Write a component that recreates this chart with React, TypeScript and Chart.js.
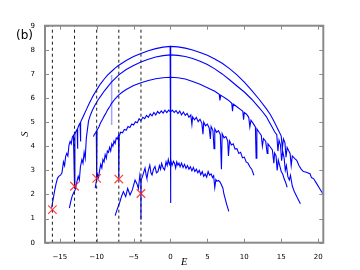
import React, { useEffect, useRef } from 'react';
import { Chart, registerables } from 'chart.js';

Chart.register(...registerables);

// Tick values
const xTickValues = [-15, -10, -5, 0, 5, 10, 15, 20];
const yTickValues = [0, 1, 2, 3, 4, 5, 6, 7, 8, 9];

// Ground-state energies (dashed lines) and marked entropies (red crosses)
const groundE = [-16, -13, -10, -7, -4];
const groundS = [1.37, 2.34, 2.67, 2.64, 2.04];

// Entropy curves S(E): [E, S]
const curveA: [number, number][] = [
  [-16.1, 1.45], [-15.9, 1.8], [-15.7, 2.15], [-15.5, 2.45], [-15.3, 2.68], [-15.1, 2.76], [-14.9, 2.8],
  [-14.7, 2.9], [-14.5, 3.35], [-14.35, 3.2], [-14.2, 3.58], [-14.05, 3.7], [-13.9, 3.6], [-13.75, 4.05],
  [-13.6, 4.2], [-13.45, 4.1], [-13.3, 4.38], [-13.15, 4.45], [-13.0, 2.35], [-12.95, 4.5], [-12.8, 4.62],
  [-12.65, 4.7], [-12.6, 3.9], [-12.55, 4.74], [-12.4, 4.88], [-12.25, 4.96], [-12.2, 4.2], [-12.15, 5.0],
  [-12.0, 5.12], [-11.7, 5.32], [-11.4, 5.52], [-11.0, 5.78], [-10.5, 6.08], [-10.0, 6.34], [-9.5, 6.58],
  [-9.0, 6.78], [-8.5, 6.96], [-8.0, 7.1], [-7.5, 7.24], [-7.0, 7.36], [-6.0, 7.56], [-5.0, 7.72],
  [-4.0, 7.85], [-3.0, 7.96], [-2.0, 8.05], [-1.0, 8.11], [-0.05, 8.14], [0, 1.65], [0.05, 8.14],
  [1.0, 8.12], [2.0, 8.07], [3.0, 7.99], [4.0, 7.89], [5.0, 7.77], [6.0, 7.62], [7.0, 7.44], [8.0, 7.22],
  [9.0, 6.96], [10.0, 6.66], [11.0, 6.32], [12.0, 5.95], [13.0, 5.55], [13.5, 5.33], [14.0, 5.05],
  [14.4, 4.8], [14.8, 4.55], [15.0, 4.42], [15.15, 3.9], [15.3, 4.3], [15.5, 4.15], [15.65, 3.55],
  [15.8, 3.95], [16.0, 3.82], [16.2, 3.7], [16.35, 3.2], [16.5, 3.6], [16.8, 3.5], [17.1, 3.42],
  [17.4, 3.2], [17.7, 3.05], [18.0, 2.95], [18.4, 2.92], [18.9, 2.86], [19.1, 2.7], [19.4, 2.65],
  [19.8, 2.45], [20.2, 2.25], [20.7, 2.0],
];

const curveB: [number, number][] = [
  [-13.7, 1.43], [-13.5, 1.72], [-13.3, 1.95], [-13.1, 2.08], [-12.9, 2.2], [-12.7, 2.5], [-12.5, 2.75],
  [-12.35, 2.6], [-12.2, 3.15], [-12.0, 3.45], [-11.85, 3.3], [-11.7, 3.75], [-11.55, 3.5], [-11.4, 4.35],
  [-11.25, 4.7], [-11.1, 5.05], [-10.9, 5.25], [-10.6, 5.48], [-10.2, 5.72], [-9.8, 5.93], [-9.4, 6.1],
  [-9.0, 6.28], [-8.0, 6.66], [-7.0, 6.96], [-6.0, 7.18], [-5.0, 7.35], [-4.0, 7.49], [-3.0, 7.61],
  [-2.0, 7.7], [-1.0, 7.76], [0, 7.79], [1.0, 7.77], [2.0, 7.72], [3.0, 7.64], [4.0, 7.53], [5.0, 7.39],
  [6.0, 7.21], [7.0, 7.0], [8.0, 6.76], [9.0, 6.5], [10.0, 6.25], [11.0, 5.95], [12.0, 5.6], [12.5, 5.42],
  [13.0, 5.22], [13.4, 5.0], [13.8, 4.78], [14.1, 4.6], [14.4, 4.48], [14.55, 3.8], [14.7, 4.25],
  [14.9, 4.05], [15.05, 3.4], [15.2, 3.8], [15.4, 3.5], [15.55, 3.0], [15.7, 3.2], [15.9, 2.74],
  [16.1, 2.6], [16.25, 2.8], [16.5, 2.35], [16.8, 2.1], [17.2, 1.85], [17.6, 1.62],
];

const curveC: [number, number][] = [
  [-10.45, 4.4], [-10.3, 4.5], [-10.15, 4.56], [-10.05, 4.62], [-10.0, 2.65], [-9.95, 4.66], [-9.7, 4.8],
  [-9.5, 4.95], [-9.2, 5.12], [-9.0, 5.24], [-8.7, 5.4], [-8.5, 5.52], [-8.2, 5.66], [-8.0, 5.77],
  [-7.5, 5.97], [-7.0, 6.13], [-6.5, 6.25], [-6.0, 6.35], [-5.0, 6.52], [-4.0, 6.63], [-3.0, 6.73],
  [-2.0, 6.8], [-1.0, 6.84], [0, 6.86], [1.0, 6.84], [2.0, 6.79], [3.0, 6.69], [4.0, 6.57], [5.0, 6.43],
  [6.0, 6.28], [6.6, 6.15], [6.7, 5.9], [6.8, 6.12], [7.0, 6.08], [7.5, 5.98], [8.0, 5.87], [8.3, 5.78],
  [8.4, 5.45], [8.5, 5.75], [9.0, 5.64], [9.5, 5.52], [9.8, 5.45], [9.9, 5.1], [10.0, 5.4], [10.3, 5.33],
  [10.6, 5.2], [10.75, 4.8], [10.9, 5.08], [11.2, 4.95], [11.5, 4.8], [11.6, 3.5], [11.7, 4.72],
  [12.0, 4.58], [12.3, 4.45], [12.45, 4.0], [12.6, 4.32], [12.9, 4.2], [13.1, 3.7], [13.2, 4.1],
  [13.5, 3.98], [13.8, 3.85], [14.0, 3.3], [14.1, 3.72], [14.3, 3.6], [14.45, 3.0], [14.6, 3.43],
  [14.8, 3.2], [15.0, 2.95], [15.2, 2.85], [15.4, 2.65], [15.6, 2.5], [15.8, 2.3],
];

const curveD: [number, number][] = [
  [-10.2, 2.26], [-10.05, 2.55], [-9.9, 2.85], [-9.75, 2.7], [-9.6, 3.0], [-9.45, 3.25], [-9.3, 3.1],
  [-9.15, 3.45], [-9.0, 3.35], [-8.85, 3.65], [-8.7, 3.5], [-8.55, 3.8], [-8.4, 3.75], [-8.25, 3.95],
  [-8.1, 3.8], [-7.95, 4.1], [-7.8, 4.0], [-7.65, 4.22], [-7.5, 4.12], [-7.35, 4.35], [-7.2, 4.3],
  [-7.05, 4.44], [-7.0, 2.65], [-6.95, 4.42], [-6.75, 4.58], [-6.5, 4.56], [-6.25, 4.7], [-6.0, 4.66],
  [-5.75, 4.82], [-5.5, 4.78], [-5.25, 4.92], [-5.0, 4.88], [-4.75, 5.02], [-4.5, 4.98], [-4.25, 5.14],
  [-4.0, 5.06], [-3.75, 5.2], [-3.5, 5.14], [-3.25, 5.28], [-3.0, 5.2], [-2.75, 5.34], [-2.5, 5.26],
  [-2.25, 5.4], [-2.0, 5.3], [-1.75, 5.44], [-1.5, 5.36], [-1.25, 5.47], [-1.0, 5.38], [-0.75, 5.5],
  [-0.5, 5.4], [-0.25, 5.5], [0, 5.42], [0.25, 5.5], [0.5, 5.4], [0.75, 5.48], [1.0, 5.36], [1.25, 5.46],
  [1.5, 5.3], [1.75, 5.42], [2.0, 5.28], [2.25, 5.36], [2.5, 5.2], [2.75, 5.3], [2.9, 4.9], [3.0, 5.22],
  [3.25, 5.1], [3.5, 5.2], [3.75, 5.02], [4.0, 5.12], [4.25, 4.95], [4.4, 4.5], [4.5, 5.0], [4.75, 4.85],
  [5.0, 4.92], [5.25, 4.75], [5.4, 4.3], [5.5, 4.82], [5.75, 4.65], [5.9, 3.9], [6.0, 4.72], [6.25, 4.58],
  [6.5, 4.65], [6.75, 4.48], [6.9, 3.05], [7.0, 4.52], [7.25, 4.35], [7.5, 4.4], [7.75, 4.22], [7.85, 3.6],
  [8.0, 4.22], [8.25, 4.05], [8.5, 4.1], [8.75, 3.88], [9.0, 3.9], [9.25, 3.7], [9.5, 3.75], [9.75, 3.52],
  [10.0, 3.55], [10.25, 3.35], [10.5, 3.3], [10.75, 3.15], [11.0, 3.05], [11.3, 2.8],
];

const curveE: [number, number][] = [
  [-7.5, 1.12], [-7.2, 1.4], [-6.85, 1.7], [-6.6, 1.95], [-6.38, 2.12], [-6.07, 1.91], [-5.8, 2.25],
  [-5.48, 1.98], [-5.17, 2.19], [-4.8, 2.6], [-4.55, 2.45], [-4.35, 2.25], [-4.15, 2.8], [-4.02, 2.5],
  [-4.0, 0.95], [-3.98, 2.6], [-3.8, 2.74], [-3.6, 2.95], [-3.45, 3.09], [-3.3, 2.8], [-3.2, 2.67],
  [-3.0, 3.0], [-2.8, 3.22], [-2.65, 2.9], [-2.5, 2.81], [-2.3, 3.05], [-2.1, 3.16], [-1.9, 2.9],
  [-1.7, 2.95], [-1.5, 3.2], [-1.35, 3.05], [-1.2, 3.29], [-1.0, 3.1], [-0.8, 3.02], [-0.6, 3.35],
  [-0.45, 3.2], [-0.3, 3.45], [-0.15, 3.25], [0.05, 3.4], [0.2, 3.2], [0.4, 3.38], [0.55, 3.3],
  [0.7, 3.1], [0.85, 3.35], [1.0, 3.22], [1.15, 3.3], [1.3, 3.15], [1.5, 3.3], [1.7, 3.12], [1.9, 3.25],
  [2.1, 3.08], [2.3, 3.2], [2.5, 3.05], [2.7, 3.15], [2.9, 2.98], [3.1, 3.12], [3.3, 2.95], [3.5, 3.05],
  [3.7, 2.9], [3.9, 3.0], [4.1, 2.82], [4.3, 2.95], [4.5, 2.75], [4.7, 2.85], [4.9, 2.72], [5.1, 2.95],
  [5.3, 2.8], [5.5, 2.85], [5.7, 2.7], [5.85, 2.78], [6.0, 2.28], [6.15, 2.62], [6.3, 2.55], [6.5, 2.58],
  [6.7, 2.52], [6.9, 2.4], [7.1, 2.26], [7.25, 2.0], [7.4, 1.84], [7.6, 1.6], [7.9, 1.3],
];

// Faint spike near E = -8
const faintSpike: [number, number][] = [[-7.97, 6.96], [-7.97, 4.88]];

const curves = [curveA, curveB, curveC, curveD, curveE];

const fmt = (v: number) => (v < 0 ? '\u2212' + Math.abs(v) : String(v));

export default function App() {
  const ref = useRef<HTMLCanvasElement>(null);

  useEffect(() => {
    if (!ref.current) return;
    const toPts = (a: [number, number][]) => a.map(([x, y]) => ({ x, y }));

    const markerDs: any = {
      data: groundE.map((e, i) => ({ x: e, y: groundS[i] })),
      showLine: false,
      pointStyle: 'crossRot',
      pointRadius: 6,
      pointBorderColor: 'rgba(255,30,30,0.85)',
      pointBackgroundColor: 'rgba(255,30,30,0.85)',
      pointBorderWidth: 1.2,
      order: 0,
    };
    const dashDs: any[] = groundE.map((e) => ({
      data: [{ x: e, y: 0 }, { x: e, y: 9 }],
      showLine: true,
      borderColor: '#1a1a1a',
      borderWidth: 1,
      borderDash: [3, 3],
      pointRadius: 0,
      order: 1,
    }));
    const curveDs: any[] = curves.map((c) => ({
      data: toPts(c),
      showLine: true,
      borderColor: '#0000ff',
      borderWidth: 1.1,
      pointRadius: 0,
      tension: 0,
      order: 2,
    }));
    const faintDs: any = {
      data: toPts(faintSpike),
      showLine: true,
      borderColor: 'rgba(90,90,255,0.55)',
      borderWidth: 1.5,
      pointRadius: 0,
      order: 3,
    };

    const framePlugin = {
      id: 'frame',
      afterDraw(chart: any) {
        const { ctx, chartArea } = chart;
        const { left, right, top, bottom } = chartArea;
        const xs = chart.scales.x;
        const ys = chart.scales.y;
        ctx.save();
        ctx.strokeStyle = '#8a8a8a';
        ctx.lineWidth = 1;
        ctx.beginPath();
        for (const v of xTickValues) {
          const px = Math.round(xs.getPixelForValue(v)) + 0.5;
          ctx.moveTo(px, bottom);
          ctx.lineTo(px, bottom - 4);
          ctx.moveTo(px, top);
          ctx.lineTo(px, top + 4);
        }
        for (const v of yTickValues) {
          const py = Math.round(ys.getPixelForValue(v)) + 0.5;
          ctx.moveTo(left, py);
          ctx.lineTo(left + 4, py);
          ctx.moveTo(right, py);
          ctx.lineTo(right - 4, py);
        }
        ctx.stroke();
        ctx.lineWidth = 2;
        ctx.strokeStyle = '#8a8a8a';
        ctx.strokeRect(left, top, right - left, bottom - top);

        ctx.fillStyle = '#000';
        ctx.font = '12px "DejaVu Sans"';
        ctx.textAlign = 'left';
        ctx.textBaseline = 'alphabetic';
        ctx.fillText('(b)', 16, 39);

        ctx.font = 'italic 10.5px "Liberation Serif"';
        ctx.textAlign = 'center';
        ctx.textBaseline = 'middle';
        ctx.fillText('E', (left + right) / 2, 262);
        ctx.translate(25.5, (top + bottom) / 2);
        ctx.rotate(-Math.PI / 2);
        ctx.fillText('S', 0, 0);
        ctx.restore();
      },
    };

    const chart = new Chart(ref.current, {
      type: 'scatter',
      data: { datasets: [markerDs, ...dashDs, ...curveDs, faintDs] },
      options: {
        animation: false,
        responsive: false,
        devicePixelRatio: 1,
        layout: { padding: { top: 25.7, right: 36.7, left: 0, bottom: 0 } },
        plugins: { legend: { display: false }, tooltip: { enabled: false } },
        scales: {
          x: {
            type: 'linear',
            min: -17,
            max: 20.7,
            grid: { display: false },
            border: { display: false },
            afterFit: (s: any) => { s.height = 27.3; },
            afterBuildTicks: (s: any) => { s.ticks = xTickValues.map((v) => ({ value: v })); },
            ticks: {
              padding: 2,
              color: '#000',
              font: { family: 'DejaVu Sans', size: 7 },
              maxRotation: 0,
              autoSkip: false,
              callback: (v: any) => fmt(Number(v)),
            },
          },
          y: {
            type: 'linear',
            min: 0,
            max: 9,
            grid: { display: false },
            border: { display: false },
            afterFit: (s: any) => { s.width = 45; },
            afterBuildTicks: (s: any) => { s.ticks = yTickValues.map((v) => ({ value: v })); },
            ticks: {
              padding: 2,
              color: '#000',
              font: { family: 'DejaVu Sans', size: 7 },
              autoSkip: false,
              callback: (v: any) => fmt(Number(v)),
            },
          },
        },
      },
      plugins: [framePlugin],
    } as any);
    return () => chart.destroy();
  }, []);

  return (
    <div style={{ position: 'fixed', left: 0, top: 0, width: 360, height: 270, background: '#fff' }}>
      <canvas ref={ref} width={360} height={270} style={{ display: 'block' }} />
    </div>
  );
}
